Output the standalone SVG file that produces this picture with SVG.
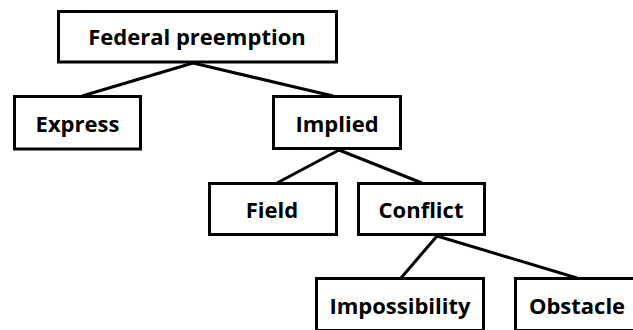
<svg xmlns="http://www.w3.org/2000/svg" width="633" height="330" viewBox="0 0 633 330">
<style>
.box{fill:#fff;stroke:#000;stroke-width:3}
.lbl{font-family:"Open Sans","Noto Sans","Liberation Sans",sans-serif;font-weight:700;font-size:22px;fill:#000;text-anchor:middle}
.edge{stroke:#000;stroke-width:3;fill:none}
</style>
<rect width="633" height="330" fill="#fff"/>
<g id="connectors">
<line class="edge" x1="193" y1="63" x2="82" y2="96"/>
<line class="edge" x1="193" y1="63" x2="333" y2="96"/>
<line class="edge" x1="339" y1="150" x2="277" y2="183"/>
<line class="edge" x1="339" y1="150" x2="422" y2="183"/>
<line class="edge" x1="437" y1="236" x2="401" y2="278"/>
<line class="edge" x1="437" y1="236" x2="577" y2="278"/>
</g>
<g id="federal"><rect class="box" x="58.5" y="11.5" width="278" height="50.5"/><text class="lbl" x="197" y="45">Federal preemption</text></g>
<g id="express"><rect class="box" x="14.5" y="96.5" width="126" height="52.5"/><text class="lbl" x="77.5" y="131.5">Express</text></g>
<g id="implied"><rect class="box" x="273.5" y="96.5" width="127" height="52"/><text class="lbl" x="337" y="131.5">Implied</text></g>
<g id="field"><rect class="box" x="209.5" y="183.5" width="127" height="51"/><text class="lbl" x="272" y="218.3">Field</text></g>
<g id="conflict"><rect class="box" x="358.5" y="183.5" width="126" height="51"/><text class="lbl" x="421" y="218.3">Conflict</text></g>
<g id="impossibility"><rect class="box" x="316.5" y="278.5" width="167" height="52"/><text class="lbl" x="400" y="314">Impossibility</text></g>
<g id="obstacle"><rect class="box" x="515.5" y="278.5" width="125" height="52"/><text class="lbl" x="577" y="314">Obstacle</text></g>
</svg>
